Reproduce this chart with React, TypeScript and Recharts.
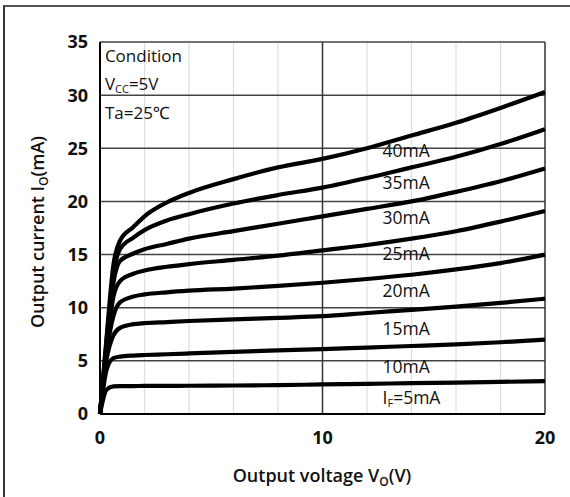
import React from 'react';
import { LineChart, Line, XAxis, YAxis, ReferenceLine, ReferenceDot, Label } from 'recharts';

const voltage = [0, 0.3, 0.6, 0.9, 1.5, 2, 3, 4, 6, 8, 10, 12, 14, 16, 18, 20];
const if5 = [0, 2.3, 2.6, 2.62, 2.63, 2.64, 2.65, 2.66, 2.68, 2.72, 2.78, 2.84, 2.9, 2.96, 3.02, 3.1];
const if10 = [0, 4.2, 5.25, 5.4, 5.5, 5.55, 5.62, 5.7, 5.85, 5.98, 6.1, 6.25, 6.4, 6.55, 6.75, 7.0];
const if15 = [0, 5.2, 7.4, 8.1, 8.45, 8.55, 8.65, 8.75, 8.9, 9.05, 9.2, 9.5, 9.8, 10.1, 10.45, 10.85];
const if20 = [0, 5.8, 9.2, 10.5, 11.05, 11.25, 11.45, 11.6, 11.8, 12.05, 12.35, 12.7, 13.1, 13.6, 14.2, 15.0];
const if25 = [0, 6.3, 11.0, 12.5, 13.2, 13.5, 13.85, 14.1, 14.5, 14.9, 15.4, 15.9, 16.5, 17.2, 18.1, 19.1];
const if30 = [0, 6.7, 12.3, 14.4, 15.1, 15.5, 16.0, 16.5, 17.2, 17.9, 18.6, 19.3, 20.0, 20.9, 21.9, 23.1];
const if35 = [0, 7.0, 13.2, 15.5, 16.6, 17.3, 18.2, 18.8, 19.8, 20.6, 21.3, 22.2, 23.2, 24.2, 25.4, 26.8];
const if40 = [0, 7.3, 14.0, 16.3, 17.6, 18.6, 19.9, 20.8, 22.1, 23.2, 24.0, 25.0, 26.2, 27.4, 28.8, 30.3];

const seriesKeys = ['i5', 'i10', 'i15', 'i20', 'i25', 'i30', 'i35', 'i40'];
const seriesValues = [if5, if10, if15, if20, if25, if30, if35, if40];

const xTicks = [0, 10, 20];
const yTicks = [0, 5, 10, 15, 20, 25, 30, 35];
const minorX = [2, 4, 6, 8, 12, 14, 16, 18];
const majorX = [10, 20];
const majorY = [5, 10, 15, 20, 25, 30, 35];

const curveLabels = ['40mA', '35mA', '30mA', '25mA', '20mA', '15mA', '10mA'];
const curveLabelY = [24.2, 21.2, 17.9, 14.5, 11.0, 7.45, 3.9];
const ifLabelY = 0.94;
const curveLabelX = 12.7;
const conditionX = 0.22;
const conditionY = [33.1, 30.5, 27.8];

const data = voltage.map((v, i) => {
  const row: Record<string, number> = { v };
  seriesKeys.forEach((k, j) => {
    row[k] = seriesValues[j][i];
  });
  return row;
});

const FONT = '"Open Sans", "Noto Sans", sans-serif';

const txt = (content: React.ReactNode, size = 17.5) => (props: any) => (
  <text x={props.cx} y={props.cy} fontFamily={FONT} fontSize={size} fill="#111" textAnchor="start">
    {content}
  </text>
);

export default function App() {
  return (
    <div style={{ position: 'absolute', left: 0, top: 0, width: 570, height: 497, background: '#fff' }}>
      <div
        style={{
          position: 'absolute',
          left: 3,
          top: 5,
          width: 567,
          height: 492,
          borderTop: '2px solid #555',
          borderLeft: '2px solid #333',
          boxSizing: 'border-box',
        }}
      />
      <div style={{ position: 'absolute', left: 0, top: 0 }}>
        <LineChart width={570} height={497} data={data} margin={{ top: 42, right: 25, left: 40, bottom: 33 }}>
          {minorX.map((x) => (
            <ReferenceLine key={'mx' + x} x={x} stroke="#dedede" strokeWidth={1.2} />
          ))}
          {majorY.map((y) => (
            <ReferenceLine key={'my' + y} y={y} stroke="#444" strokeWidth={1.5} />
          ))}
          {majorX.map((x) => (
            <ReferenceLine key={'mjx' + x} x={x} stroke="#333" strokeWidth={1.5} />
          ))}
          <XAxis
            type="number"
            dataKey="v"
            domain={[0, 20]}
            ticks={xTicks}
            height={50}
            axisLine={{ stroke: '#000', strokeWidth: 2 }}
            tickLine={false}
            tickSize={6}
            tickMargin={11}
            tick={{ fontSize: 18, fontWeight: 700, fill: '#111', fontFamily: FONT }}
          >
            <Label
              content={() => (
                <text x={322} y={482} textAnchor="middle" fontFamily={FONT} fontSize={18} fontWeight={600} fill="#111">
                  Output voltage V
                  <tspan fontSize={12} dy={4}>O</tspan>
                  <tspan dy={-4}>(V)</tspan>
                </text>
              )}
            />
          </XAxis>
          <YAxis
            type="number"
            domain={[0, 35]}
            ticks={yTicks}
            width={60}
            axisLine={{ stroke: '#000', strokeWidth: 2 }}
            tickLine={false}
            tickSize={6}
            tickMargin={6}
            tick={{ fontSize: 18, fontWeight: 700, fill: '#111', fontFamily: FONT }}
          >
            <Label
              content={() => (
                <text
                  x={44}
                  y={232}
                  transform="rotate(-90 44 232)"
                  textAnchor="middle"
                  fontFamily={FONT}
                  fontSize={18}
                  fontWeight={600}
                  fill="#111"
                >
                  Output current I
                  <tspan fontSize={12} dy={4}>O</tspan>
                  <tspan dy={-4}>(mA)</tspan>
                </text>
              )}
            />
          </YAxis>
          {seriesKeys.map((k) => (
            <Line
              key={k}
              type="monotone"
              dataKey={k}
              stroke="#000"
              strokeWidth={4.2}
              dot={false}
              isAnimationActive={false}
            />
          ))}
          {curveLabels.map((t, i) => (
            <ReferenceDot key={t} x={curveLabelX} y={curveLabelY[i]} r={0} shape={txt(t)} />
          ))}
          <ReferenceDot
            x={curveLabelX}
            y={ifLabelY}
            r={0}
            shape={txt(
              <>
                I<tspan fontSize={11} dy={3}>F</tspan>
                <tspan dy={-3}>=5mA</tspan>
              </>
            )}
          />
          <ReferenceDot x={conditionX} y={conditionY[0]} r={0} shape={txt('Condition', 17)} />
          <ReferenceDot
            x={conditionX}
            y={conditionY[1]}
            r={0}
            shape={txt(
              <>
                V<tspan fontSize={11} dy={3}>CC</tspan>
                <tspan dy={-3}>=5V</tspan>
              </>,
              17
            )}
          />
          <ReferenceDot x={conditionX} y={conditionY[2]} r={0} shape={txt('Ta=25℃', 17)} />
        </LineChart>
      </div>
    </div>
  );
}
